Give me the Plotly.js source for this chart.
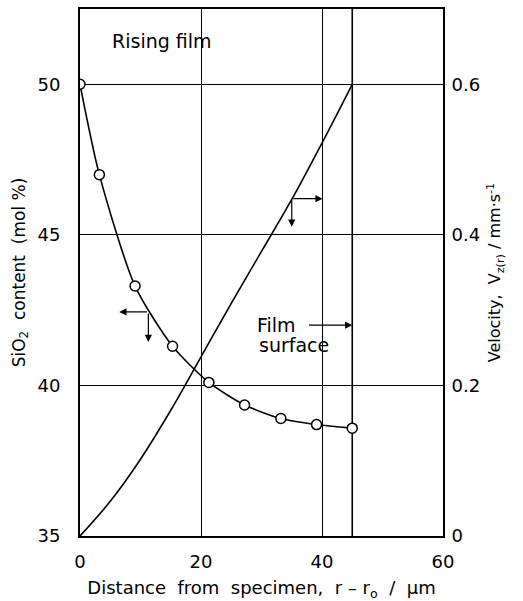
<!DOCTYPE html>
<html>
<head>
<meta charset="utf-8">
<script src="https://cdn.plot.ly/plotly-3.0.1.min.js"></script>
<style>html,body{margin:0;padding:0;background:#fff;}#chart{width:523px;height:601px;}</style>
</head>
<body>
<div id="chart"></div>
<script>
// SiO2 content measured points (mol %)
const distSiO2 = [0, 3.2, 9.1, 15.3, 21.3, 27.2, 33.2, 39.1, 45];
const sio2 = [50, 47.0, 43.3, 41.3, 40.1, 39.35, 38.9, 38.7, 38.58];
// Velocity profile Vz(r) (mm/s)
const distVel = [0, 5, 10, 15, 20, 25, 30, 35, 40, 45];
const velocity = [0, 0.046, 0.102, 0.167, 0.238, 0.309, 0.378, 0.447, 0.522, 0.6];
// film surface position (µm)
const filmSurface = 45;
const xTicks = [0, 20, 40, 60];
const yTicksLeft = [35, 40, 45, 50];
const yTicksRight = [0, 0.2, 0.4, 0.6];
const yTickTextRight = ['0', '0.2', '0.4', '0.6'];

const font = 'DejaVu Sans, sans-serif';

const traces = [
  {
    x: distVel, y: velocity, yaxis: 'y2', mode: 'lines',
    line: {color: '#000', width: 1.6, shape: 'spline', smoothing: 1},
    hoverinfo: 'skip', showlegend: false
  },
  {
    x: [filmSurface, filmSurface], y: [35, 52.5], mode: 'lines',
    line: {color: '#000', width: 1.6}, hoverinfo: 'skip', showlegend: false
  },
  {
    x: distSiO2, y: sio2, mode: 'lines+markers',
    line: {color: '#000', width: 1.6, shape: 'spline', smoothing: 0.7},
    marker: {symbol: 'circle', size: 10, color: '#fff', line: {color: '#000', width: 1.5}},
    showlegend: false
  }
];

function arrow(xHead, yHead, xTail, yTail) {
  return {x: xHead, y: yHead, ax: xTail, ay: yTail, xref: 'x', yref: 'y', axref: 'x', ayref: 'y',
    text: '', showarrow: true, arrowhead: 2, arrowsize: 1.2, arrowwidth: 1.2, arrowcolor: '#000'};
}

const layout = {
  width: 523, height: 601,
  margin: {l: 80, r: 80, t: 9, b: 65},
  paper_bgcolor: '#fff', plot_bgcolor: '#fff',
  font: {family: font, color: '#000', size: 17},
  xaxis: {
    range: [0, 60], tickvals: xTicks, ticks: '', showgrid: true, gridcolor: '#000', gridwidth: 1,
    showline: true, linecolor: '#000', linewidth: 2, mirror: true, zeroline: false,
    tickfont: {size: 18, family: font}, ticklabelstandoff: 8,
    title: {text: 'Distance  from  specimen,  r – r<sub>o</sub>  /  μm', font: {size: 18, family: font}, standoff: 11}
  },
  yaxis: {
    range: [35, 52.5], tickvals: yTicksLeft, ticks: '', showgrid: true, gridcolor: '#000', gridwidth: 1,
    showline: true, linecolor: '#000', linewidth: 2, zeroline: false,
    tickfont: {size: 18, family: font}, ticklabelstandoff: 14,
    title: {text: 'SiO<sub>2</sub>  content  (mol %)', font: {size: 17, family: font}, standoff: 8}
  },
  yaxis2: {
    range: [0, 0.7], overlaying: 'y', side: 'right', tickvals: yTicksRight, ticktext: yTickTextRight,
    ticks: '', showgrid: false, showline: true, linecolor: '#000', linewidth: 2, zeroline: false,
    tickfont: {size: 18, family: font}, ticklabelstandoff: 3,
    title: {text: 'Velocity,  V<sub>z(r)</sub> / mm·s<sup>-1</sup>', font: {size: 16, family: font}, standoff: 10}
  },
  annotations: [
    {x: 4.9, y: 51.43, xref: 'x', yref: 'y', text: 'Rising film', showarrow: false, xanchor: 'left', yanchor: 'middle', font: {size: 19, family: font}},
    {x: 29.0, y: 42.0, xref: 'x', yref: 'y', text: 'Film', showarrow: false, xanchor: 'left', yanchor: 'middle', font: {size: 19, family: font}},
    {x: 29.2, y: 41.35, xref: 'x', yref: 'y', text: 'surface', showarrow: false, xanchor: 'left', yanchor: 'middle', font: {size: 19, family: font}},
    arrow(45, 42.0, 37.6, 42.0),
    arrow(6.5, 42.44, 11.3, 42.44),
    arrow(11.3, 41.44, 11.3, 42.44),
    arrow(40.1, 46.2, 35, 46.2),
    arrow(35, 45.27, 35, 46.2)
  ]
};

Plotly.newPlot('chart', traces, layout, {displayModeBar: false, staticPlot: true});
</script>
</body>
</html>
